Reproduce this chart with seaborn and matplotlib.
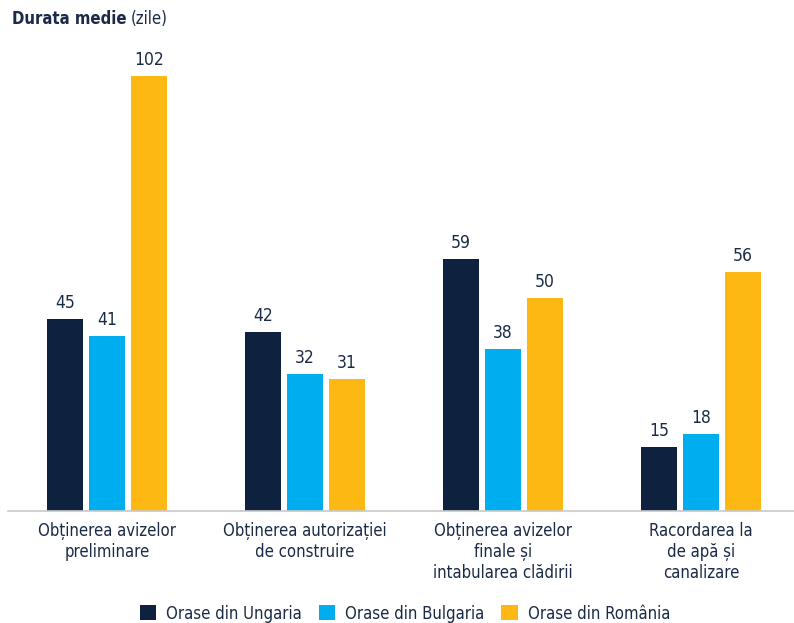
import pandas as pd
import numpy as np
import matplotlib.pyplot as plt
import seaborn as sns

# data
categorii = ["Obținerea avizelor\npreliminare",
             "Obținerea autorizației\nde construire",
             "Obținerea avizelor\nfinale și\nintabularea clădirii",
             "Racordarea la\nde apă și\ncanalizare"]
serii = ["Orase din Ungaria", "Orase din Bulgaria", "Orase din România"]
ungaria = [45, 42, 59, 15]
bulgaria = [41, 32, 38, 18]
romania = [102, 31, 50, 56]

culori = ["#0e2240", "#00aeef", "#fdb813"]
text_col = "#1b2a47"

df = pd.DataFrame({
    "categorie": categorii * 3,
    "serie": np.repeat(serii, len(categorii)),
    "zile": ungaria + bulgaria + romania,
})

sns.set_style("white")
plt.rcParams["font.family"] = ["DejaVu Sans"]
plt.rcParams["font.stretch"] = "condensed"

fig = plt.figure(figsize=(7.94, 6.23), dpi=100)
ax = fig.add_axes([0.01, 0.18, 0.99, 0.756])

sns.barplot(data=df, x="categorie", y="zile", hue="serie", palette=culori,
            saturation=1, width=0.636, gap=0.14, linewidth=0, ax=ax, legend=True)

for cont in ax.containers:
    ax.bar_label(cont, padding=5, fontsize=12.5, color=text_col)

ax.set_xlim(-0.5, 3.47)
ax.set_ylim(0, 110.4)
ax.set_xlabel("")
ax.set_ylabel("")
ax.set_yticks([])
ax.tick_params(axis="x", length=0, pad=8, labelsize=12, labelcolor=text_col)
for s in ["top", "right", "left"]:
    ax.spines[s].set_visible(False)
ax.spines["bottom"].set_color("#c8c8c8")
ax.spines["bottom"].set_linewidth(1.2)

t1 = fig.text(0.015, 0.97, "Durata medie", fontsize=12, fontweight="bold",
              color=text_col, va="center")
r = fig.canvas.get_renderer()
bb = t1.get_window_extent(r)
fig.text((bb.x1 + 4) / fig.bbox.width, 0.97, "(zile)", fontsize=12,
         color=text_col, va="center")

handles, labels = ax.get_legend_handles_labels()
ax.legend_.remove()
fig.legend(handles, labels, loc="center", bbox_to_anchor=(0.51, 0.015),
           ncol=3, frameon=False, fontsize=12, handlelength=1.0, handleheight=1.0,
           handletextpad=0.6, columnspacing=1.0, labelcolor=text_col)

fig.savefig("out.png", dpi=100)
